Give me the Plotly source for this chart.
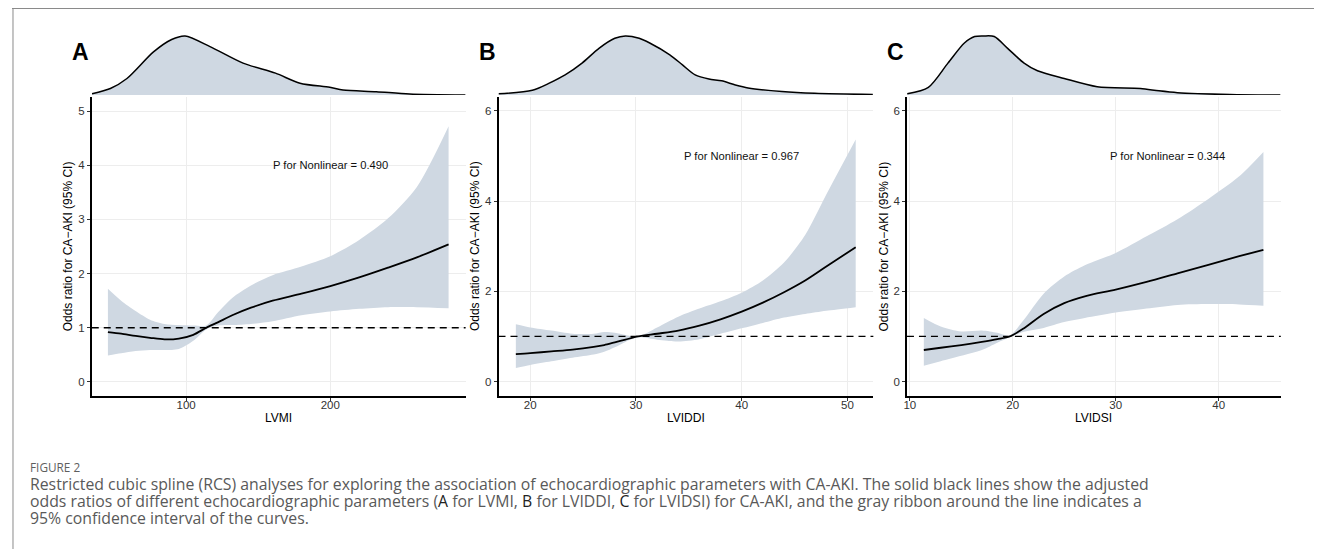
import plotly.graph_objects as go

# page body has an 8px margin; the figure is sized to sit inside it
OX, OY = 8, 8
W, H = 1322 - 2 * OX, 557 - 2 * OY

# ---------------- data ----------------
# Panel A: LVMI
a_x = [45.8, 55, 65, 75, 85, 95, 105, 114, 122, 132, 145, 160, 180, 200, 220, 240, 260, 282]
a_or = [0.92, 0.89, 0.85, 0.815, 0.785, 0.80, 0.87, 1.0, 1.10, 1.23, 1.37, 1.50, 1.63, 1.77, 1.93, 2.11, 2.30, 2.54]
a_hi = [1.72, 1.50, 1.31, 1.15, 1.07, 1.05, 1.04, 1.04, 1.28, 1.55, 1.78, 1.97, 2.13, 2.32, 2.62, 3.02, 3.60, 4.72]
a_lo = [0.49, 0.53, 0.57, 0.59, 0.59, 0.61, 0.76, 0.97, 1.04, 1.05, 1.07, 1.12, 1.23, 1.30, 1.35, 1.38, 1.38, 1.36]
a_dx = [34.8, 47.5, 59, 77.4, 90, 99.3, 116.6, 139.5, 162, 179, 199.6, 208.8, 231.9, 254.9, 293.8]
a_dy = [0.02, 0.11, 0.28, 0.73, 0.94, 1.0, 0.82, 0.54, 0.37, 0.20, 0.13, 0.085, 0.056, 0.017, 0.0]

# Panel B: LVIDDI
b_x = [18.64, 20, 22, 24, 26, 27, 28, 29, 30.2, 32, 34, 36, 38, 40, 42, 44, 46, 48, 50.78]
b_or = [0.61, 0.63, 0.67, 0.71, 0.77, 0.81, 0.87, 0.93, 1.0, 1.06, 1.13, 1.24, 1.38, 1.55, 1.75, 1.98, 2.24, 2.55, 2.98]
b_hi = [1.27, 1.20, 1.13, 1.06, 1.06, 1.10, 1.08, 1.03, 1.0, 1.20, 1.44, 1.62, 1.78, 1.97, 2.24, 2.64, 3.25, 4.15, 5.37]
b_lo = [0.30, 0.37, 0.45, 0.53, 0.60, 0.66, 0.76, 0.88, 0.98, 0.93, 0.89, 0.94, 1.06, 1.18, 1.30, 1.42, 1.50, 1.57, 1.65]
b_dx = [17.0, 20.2, 21.8, 23.3, 24.9, 26.5, 28, 29.0, 30.3, 31.3, 33.2, 34.4, 35.6, 36.9, 38.1, 39.4, 40.6, 43.8, 46.9, 52.4]
b_dy = [0.02, 0.08, 0.20, 0.34, 0.54, 0.79, 0.96, 1.0, 0.96, 0.88, 0.68, 0.51, 0.34, 0.27, 0.24, 0.17, 0.12, 0.06, 0.03, 0.01]

# Panel C: LVIDSI
c_x = [11.36, 13, 15, 17, 18.5, 19.7, 21, 23, 25, 27, 30, 33, 36, 39, 42, 44.35]
c_or = [0.70, 0.75, 0.81, 0.88, 0.94, 1.0, 1.17, 1.50, 1.74, 1.89, 2.04, 2.21, 2.40, 2.59, 2.78, 2.92]
c_hi = [1.41, 1.22, 1.11, 1.13, 1.08, 1.02, 1.35, 1.95, 2.33, 2.58, 2.85, 3.22, 3.60, 4.05, 4.55, 5.09]
c_lo = [0.35, 0.45, 0.57, 0.70, 0.86, 0.98, 1.10, 1.19, 1.32, 1.41, 1.53, 1.62, 1.70, 1.72, 1.71, 1.68]
c_dx = [9.75, 11.8, 13.7, 15.3, 16.3, 17.2, 18.2, 19.5, 21.1, 22.4, 25.0, 28.2, 32.4, 34.2, 36.0, 41.1, 46.0]
c_dy = [0.02, 0.13, 0.54, 0.88, 0.99, 1.0, 0.99, 0.79, 0.54, 0.41, 0.28, 0.14, 0.11, 0.07, 0.04, 0.01, 0.0]

panel_letters = ["A", "B", "C"]
x_titles = ["LVMI", "LVIDDI", "LVIDSI"]
y_title = "Odds ratio for CA\u2212AKI (95% CI)"
p_texts = ["P for Nonlinear = 0.490", "P for Nonlinear = 0.967", "P for Nonlinear = 0.344"]
p_pos = [(200, 4), (40, 5), (35, 5)]
x_ticks = [[100, 200], [20, 30, 40, 50], [10, 20, 30, 40]]
y_ticks = [[0, 1, 2, 3, 4, 5], [0, 2, 4, 6], [0, 2, 4, 6]]

# ---------------- layout geometry (page pixels) ----------------
x_ranges = [[34.6, 293.8], [17.0, 52.45], [9.72, 46.04]]
y_ranges = [[-0.26, 5.26], [-0.32, 6.31], [-0.32, 6.31]]
px_left = [88, 496, 905.7]
px_right = [463, 872, 1280.7]
main_top, main_bot = 97, 396
dens_top, dens_bot = 33, 95

RIB = "#CFD8E2"
FONT = "Liberation Sans, Arial, sans-serif"
CAP = "Open Sans, Lato, sans-serif"


def fx(p):
    return (p - OX) / W


def fy(p):
    return 1 - (p - OY) / H


fig = go.Figure()
data = [
    (a_x, a_or, a_hi, a_lo, a_dx, a_dy),
    (b_x, b_or, b_hi, b_lo, b_dx, b_dy),
    (c_x, c_or, c_hi, c_lo, c_dx, c_dy),
]

layout_axes = {}
annotations = []
shapes = []
for i, (xx, orr, hi, lo, dx, dy) in enumerate(data):
    mx = 2 * i + 1
    dn = 2 * i + 2
    mxs = "" if mx == 1 else str(mx)
    xa, ya = "x" + mxs, "y" + mxs
    xd, yd = "x" + str(dn), "y" + str(dn)

    fig.add_trace(go.Scatter(x=xx, y=lo, mode="lines", line=dict(width=0, shape="spline", smoothing=0.8),
                             xaxis=xa, yaxis=ya, showlegend=False, hoverinfo="skip"))
    fig.add_trace(go.Scatter(x=xx, y=hi, mode="lines", line=dict(width=0, shape="spline", smoothing=0.8),
                             fill="tonexty", fillcolor=RIB, xaxis=xa, yaxis=ya, showlegend=False,
                             hoverinfo="skip"))
    fig.add_trace(go.Scatter(x=xx, y=orr, mode="lines",
                             line=dict(color="black", width=1.8, shape="spline", smoothing=0.8),
                             xaxis=xa, yaxis=ya, showlegend=False))
    fig.add_trace(go.Scatter(x=dx, y=dy, mode="lines", fill="tozeroy", fillcolor=RIB,
                             line=dict(color="black", width=1.5, shape="spline", smoothing=0.8),
                             xaxis=xd, yaxis=yd, showlegend=False))

    dom_x = [fx(px_left[i]), fx(px_right[i])]
    common = dict(showline=True, linecolor="black", linewidth=1.5, ticks="outside", ticklen=3,
                  tickcolor="#333333", tickwidth=1, showgrid=True, gridcolor="#EDEDED", gridwidth=1,
                  zeroline=False, tickfont=dict(family=FONT, size=11.5, color="#333333"))
    layout_axes["xaxis" + mxs] = dict(domain=dom_x, range=x_ranges[i], anchor=ya,
                                      tickvals=x_ticks[i], ticklabelstandoff=-6, **common)
    layout_axes["yaxis" + mxs] = dict(domain=[fy(main_bot), fy(main_top)], range=y_ranges[i], anchor=xa,
                                      tickvals=y_ticks[i], **common)
    layout_axes["xaxis" + str(dn)] = dict(domain=dom_x, range=x_ranges[i], anchor=yd, visible=False,
                                          showgrid=False, zeroline=False)
    layout_axes["yaxis" + str(dn)] = dict(domain=[fy(dens_bot), fy(dens_top)], range=[0, 1.05], anchor=xd,
                                          visible=False, showgrid=False, zeroline=False)

    shapes.append(dict(type="line", xref=xa + " domain", yref=ya, x0=0, x1=1, y0=1, y1=1,
                       line=dict(color="black", width=1.3, dash="7px,5px"), layer="above"))

    annotations.append(dict(x=p_pos[i][0], y=p_pos[i][1], xref=xa, yref=ya, text=p_texts[i],
                            xanchor="center", yanchor="middle", showarrow=False,
                            font=dict(family=FONT, size=11.2, color="#111111")))
    annotations.append(dict(x=fx(px_left[i] - 11), y=fy(52), xref="paper", yref="paper",
                            xanchor="center", yanchor="middle",
                            text="<b>" + panel_letters[i] + "</b>", showarrow=False,
                            font=dict(family=FONT, size=23, color="black")))
    annotations.append(dict(x=fx(px_left[i] - 23), y=fy((main_top + main_bot) / 2), xref="paper",
                            yref="paper", xanchor="center", yanchor="middle", text=y_title,
                            textangle=-90, showarrow=False,
                            font=dict(family=FONT, size=12, color="black")))
    annotations.append(dict(x=fx((px_left[i] + px_right[i]) / 2), y=fy(418), xref="paper", yref="paper",
                            xanchor="center", yanchor="middle", text=x_titles[i], showarrow=False,
                            font=dict(family=FONT, size=12, color="black")))

# caption
dark = "<span style='color:#222222'>{}</span>"
annotations.append(dict(x=fx(24), y=fy(467), xref="paper", yref="paper", xanchor="left", yanchor="middle",
                        text="FIGURE 2", showarrow=False, font=dict(family=CAP, size=11.8, color="#5E5E5E")))
cap_lines = [
    "Restricted cubic spline (RCS) analyses for exploring the association of echocardiographic parameters with CA-AKI. The solid black lines show the adjusted",
    "odds ratios of different echocardiographic parameters (" + dark.format("A") + " for LVMI, " + dark.format("B")
    + " for LVIDDI, " + dark.format("C") + " for LVIDSI) for CA-AKI, and the gray ribbon around the line indicates a",
    "95% confidence interval of the curves.",
]
for k, ln in enumerate(cap_lines):
    annotations.append(dict(x=fx(24), y=fy(484 + 17 * k), xref="paper", yref="paper", xanchor="left",
                            yanchor="middle", text=ln, showarrow=False,
                            font=dict(family=CAP, size=15.8, color="#595959")))

# frame lines
shapes.append(dict(type="line", xref="paper", yref="paper", x0=0, x1=1, y0=fy(8.5), y1=fy(8.5),
                   line=dict(color="#8A8A8A", width=1)))
shapes.append(dict(type="line", xref="paper", yref="paper", x0=fx(9), x1=fx(9), y0=0, y1=fy(8.5),
                   line=dict(color="#8A8A8A", width=1)))

fig.update_layout(
    width=W, height=H, autosize=False,
    margin=dict(l=0, r=0, t=0, b=0),
    paper_bgcolor="white", plot_bgcolor="white",
    showlegend=False,
    annotations=annotations, shapes=shapes,
    **layout_axes,
)

fig.write_html("out.html")
